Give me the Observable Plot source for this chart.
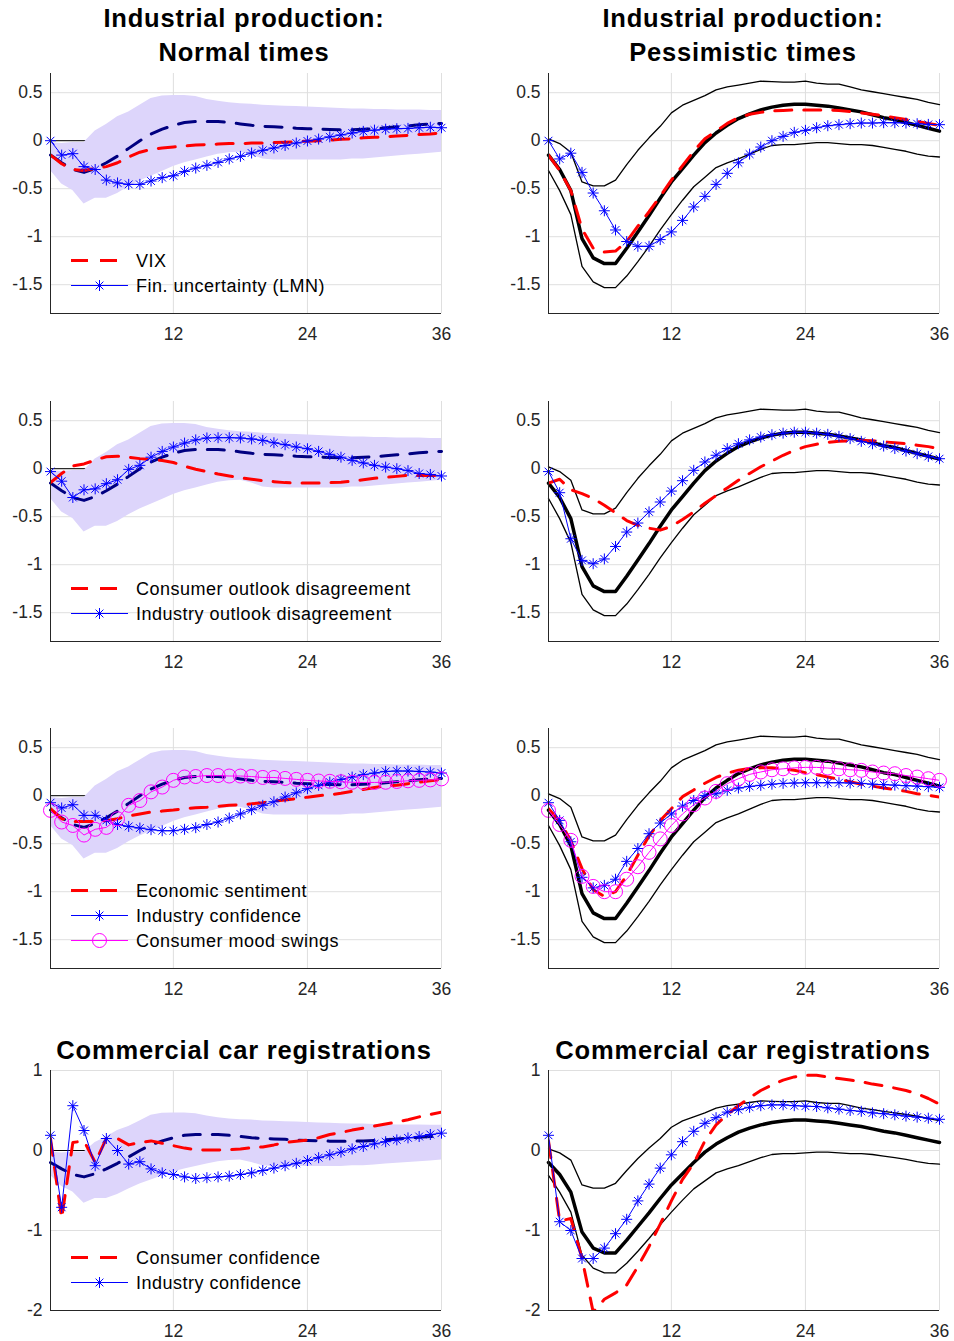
<!DOCTYPE html>
<html><head><meta charset="utf-8">
<script src="https://cdn.jsdelivr.net/npm/d3@7"></script>
<script src="https://cdn.jsdelivr.net/npm/@observablehq/plot@0.6"></script>
<style>
body{margin:0;background:#fff;font-family:"Liberation Sans",Arial,Helvetica,sans-serif;}
#root{position:relative;width:954px;height:1341px;overflow:hidden;background:#fff;}
.title{position:absolute;font-weight:bold;font-size:25.5px;letter-spacing:0.8px;color:#000;text-align:center;line-height:34px;width:500px;white-space:nowrap;}
.panel{position:absolute;}
.legend{position:absolute;}
</style></head><body><div id="root"></div>
<script>
// ---------- data ----------
const months = d3.range(1, 37);
const xTicks = [12, 24, 36];
const yTicksIP = [0.5, 0, -0.5, -1, -1.5];
const yTicksCar = [1, 0, -1, -2];

// baseline: normal times (median + band)
const normMed = [-0.15,-0.23,-0.30,-0.33,-0.29,-0.23,-0.16,-0.08,0.0,0.07,0.12,0.16,0.19,0.2,0.2,0.2,0.19,0.175,0.16,0.15,0.145,0.14,0.13,0.125,0.12,0.117,0.115,0.115,0.12,0.125,0.135,0.145,0.155,0.165,0.175,0.18];
const normHi = [-0.02,-0.03,-0.02,-0.02,0.1,0.17,0.25,0.3,0.37,0.44,0.465,0.47,0.47,0.46,0.43,0.41,0.395,0.385,0.38,0.37,0.365,0.36,0.355,0.35,0.345,0.34,0.335,0.33,0.33,0.325,0.325,0.32,0.32,0.32,0.315,0.315];
const normLo = [-0.31,-0.45,-0.52,-0.66,-0.60,-0.60,-0.55,-0.48,-0.42,-0.37,-0.32,-0.27,-0.23,-0.2,-0.17,-0.14,-0.125,-0.12,-0.15,-0.19,-0.2,-0.2,-0.2,-0.2,-0.2,-0.2,-0.2,-0.19,-0.19,-0.18,-0.17,-0.16,-0.15,-0.14,-0.13,-0.12];

// baseline: pessimistic times (median + bounds)
const pessMed = [-0.15,-0.30,-0.52,-1.02,-1.22,-1.28,-1.28,-1.12,-0.95,-0.78,-0.60,-0.43,-0.29,-0.15,-0.02,0.08,0.16,0.23,0.28,0.32,0.35,0.37,0.38,0.38,0.37,0.36,0.34,0.32,0.30,0.27,0.24,0.22,0.19,0.16,0.13,0.10];
const pessHi = [0.02,-0.03,-0.12,-0.43,-0.47,-0.47,-0.41,-0.25,-0.1,0.03,0.15,0.29,0.37,0.42,0.47,0.53,0.56,0.58,0.60,0.62,0.615,0.61,0.61,0.62,0.60,0.59,0.59,0.56,0.53,0.51,0.49,0.47,0.45,0.43,0.40,0.375];
const pessLo = [-0.31,-0.52,-0.77,-1.31,-1.47,-1.53,-1.53,-1.41,-1.26,-1.1,-0.93,-0.77,-0.62,-0.48,-0.38,-0.28,-0.23,-0.19,-0.14,-0.09,-0.05,-0.04,-0.04,-0.03,-0.02,-0.02,-0.03,-0.04,-0.04,-0.05,-0.07,-0.09,-0.11,-0.14,-0.16,-0.17];

// row 1: VIX / financial uncertainty
const vixNormal = [-0.15,-0.24,-0.30,-0.31,-0.29,-0.27,-0.23,-0.17,-0.12,-0.09,-0.075,-0.065,-0.055,-0.045,-0.04,-0.035,-0.03,-0.03,-0.025,-0.025,-0.02,-0.015,-0.01,-0.005,0.0,0.005,0.015,0.02,0.03,0.035,0.04,0.05,0.055,0.065,0.07,0.08];
const finNormal = [0.0,-0.15,-0.135,-0.27,-0.30,-0.41,-0.44,-0.455,-0.455,-0.42,-0.385,-0.365,-0.32,-0.285,-0.257,-0.226,-0.19,-0.163,-0.128,-0.10,-0.076,-0.05,-0.024,-0.003,0.017,0.04,0.06,0.08,0.097,0.11,0.12,0.125,0.128,0.135,0.14,0.135];
const vixPess = [-0.15,-0.31,-0.52,-0.92,-1.12,-1.16,-1.15,-1.05,-0.89,-0.74,-0.58,-0.41,-0.26,-0.11,0.02,0.10,0.18,0.24,0.275,0.295,0.31,0.315,0.32,0.32,0.32,0.32,0.315,0.305,0.29,0.275,0.26,0.24,0.22,0.2,0.18,0.16];
const finPess = [0.0,-0.19,-0.13,-0.33,-0.545,-0.73,-0.93,-1.05,-1.10,-1.10,-1.03,-0.95,-0.83,-0.69,-0.58,-0.455,-0.34,-0.23,-0.14,-0.066,0.0,0.045,0.087,0.108,0.135,0.156,0.167,0.177,0.184,0.184,0.187,0.187,0.184,0.177,0.17,0.167];

// row 2: outlook disagreement
const conOutNormal = [-0.145,-0.05,0.03,0.05,0.09,0.125,0.13,0.12,0.105,0.095,0.085,0.065,0.025,-0.005,-0.03,-0.055,-0.075,-0.095,-0.11,-0.125,-0.135,-0.145,-0.15,-0.15,-0.15,-0.145,-0.14,-0.13,-0.115,-0.1,-0.09,-0.08,-0.07,-0.07,-0.07,-0.07];
const indOutNormal = [-0.03,-0.13,-0.3,-0.22,-0.21,-0.156,-0.115,-0.007,0.035,0.12,0.18,0.226,0.267,0.3,0.32,0.323,0.323,0.32,0.31,0.295,0.27,0.25,0.226,0.208,0.18,0.15,0.12,0.087,0.06,0.035,0.017,0.0,-0.02,-0.05,-0.06,-0.076];
const conOutPess = [-0.15,-0.11,-0.22,-0.26,-0.31,-0.38,-0.46,-0.54,-0.59,-0.62,-0.64,-0.6,-0.53,-0.45,-0.36,-0.28,-0.2,-0.12,-0.05,0.02,0.08,0.14,0.19,0.23,0.255,0.275,0.285,0.29,0.295,0.29,0.28,0.27,0.26,0.245,0.23,0.21];
const indOutPess = [-0.03,-0.25,-0.73,-0.955,-0.99,-0.94,-0.81,-0.66,-0.566,-0.45,-0.347,-0.233,-0.125,-0.017,0.07,0.14,0.21,0.26,0.30,0.33,0.354,0.37,0.38,0.38,0.37,0.358,0.337,0.313,0.285,0.26,0.236,0.21,0.184,0.156,0.128,0.104];

// row 3: sentiment / confidence / mood
const econNormal = [-0.135,-0.24,-0.27,-0.27,-0.27,-0.26,-0.24,-0.21,-0.19,-0.17,-0.16,-0.15,-0.135,-0.125,-0.12,-0.11,-0.1,-0.094,-0.085,-0.073,-0.055,-0.045,-0.03,-0.015,0.0,0.01,0.025,0.045,0.065,0.085,0.1,0.11,0.125,0.14,0.155,0.17];
const indConfNormal = [-0.073,-0.128,-0.094,-0.205,-0.205,-0.257,-0.3,-0.32,-0.337,-0.354,-0.365,-0.365,-0.35,-0.333,-0.3,-0.274,-0.233,-0.19,-0.146,-0.1,-0.063,-0.014,0.03,0.073,0.108,0.142,0.17,0.194,0.219,0.236,0.253,0.257,0.257,0.253,0.246,0.236];
const moodNormal = [-0.153,-0.274,-0.31,-0.41,-0.35,-0.33,-0.24,-0.1,-0.05,0.04,0.09,0.16,0.195,0.2,0.21,0.21,0.205,0.205,0.2,0.19,0.19,0.18,0.17,0.16,0.153,0.15,0.145,0.14,0.138,0.138,0.14,0.148,0.155,0.16,0.165,0.175];
const econPess = [-0.135,-0.26,-0.47,-0.76,-0.98,-1.05,-1.0,-0.83,-0.62,-0.42,-0.26,-0.135,-0.01,0.06,0.13,0.19,0.235,0.265,0.285,0.29,0.29,0.28,0.265,0.24,0.22,0.195,0.17,0.145,0.12,0.1,0.08,0.065,0.045,0.02,0.005,-0.014];
const indConfPess = [-0.073,-0.257,-0.48,-0.85,-0.96,-0.934,-0.87,-0.684,-0.55,-0.396,-0.285,-0.19,-0.108,-0.05,0.003,0.02,0.056,0.08,0.097,0.108,0.12,0.128,0.132,0.135,0.135,0.135,0.135,0.132,0.128,0.12,0.115,0.11,0.104,0.1,0.094,0.087];
const moodPess = [-0.153,-0.3,-0.465,-0.84,-0.945,-1.0,-1.0,-0.87,-0.74,-0.59,-0.45,-0.31,-0.19,-0.094,-0.024,0.045,0.125,0.177,0.222,0.247,0.27,0.28,0.29,0.295,0.295,0.288,0.28,0.27,0.264,0.247,0.236,0.229,0.21,0.194,0.177,0.16];

// row 4: commercial car registrations
const conConfNormal = [0.15,-0.85,0.1,0.12,-0.15,0.15,0.15,0.07,0.1,0.12,0.09,0.06,0.03,0.01,0.005,0.005,0.01,0.02,0.035,0.045,0.07,0.1,0.115,0.13,0.16,0.2,0.225,0.255,0.28,0.305,0.33,0.355,0.385,0.42,0.45,0.48];
const indConfCarNormal = [0.19,-0.71,0.56,0.25,-0.19,0.15,0.0,-0.17,-0.14,-0.23,-0.28,-0.3,-0.33,-0.35,-0.34,-0.33,-0.32,-0.3,-0.28,-0.25,-0.22,-0.19,-0.16,-0.125,-0.09,-0.054,-0.02,0.02,0.05,0.083,0.11,0.133,0.158,0.175,0.2,0.217];
const conConfPess = [0.12,-0.88,-0.85,-1.35,-2.02,-1.86,-1.78,-1.68,-1.45,-1.2,-0.92,-0.63,-0.36,-0.16,0.12,0.32,0.45,0.56,0.66,0.75,0.82,0.88,0.92,0.94,0.94,0.92,0.90,0.88,0.86,0.83,0.81,0.78,0.75,0.71,0.65,0.58];
const indConfCarPess = [0.19,-0.89,-1.0,-1.35,-1.35,-1.22,-1.04,-0.86,-0.63,-0.42,-0.22,-0.054,0.11,0.24,0.34,0.41,0.48,0.51,0.54,0.56,0.57,0.57,0.56,0.554,0.55,0.533,0.517,0.5,0.49,0.47,0.46,0.446,0.43,0.417,0.404,0.39];

const titlesTop = [["Industrial production:", "Normal times"], ["Industrial production:", "Pessimistic times"]];
const titleCar = "Commercial car registrations";

// ---------- styling ----------
const C = {red: "#ff0000", blue: "#0000ff", magenta: "#ff00ff", navy: "#000080", grid: "#dfdfdf", axis: "#262626", band: "#ddd5fb"};
const DASH = "17,12";
const FONT = '"Liberation Sans", Arial, Helvetica, sans-serif';

const asterisk = {
  draw(ctx, size) {
    const r = Math.sqrt(size / Math.PI), d = r * Math.SQRT1_2;
    ctx.moveTo(-r, 0); ctx.lineTo(r, 0);
    ctx.moveTo(0, -r); ctx.lineTo(0, r);
    ctx.moveTo(-d, -d); ctx.lineTo(d, d);
    ctx.moveTo(-d, d); ctx.lineTo(d, -d);
  }
};

function seriesMarks(kind, values) {
  if (kind === "red") return [Plot.lineY(values, {x: months, stroke: C.red, strokeWidth: 3, strokeDasharray: DASH, clip: true})];
  if (kind === "blue") return [
    Plot.lineY(values, {x: months, stroke: C.blue, strokeWidth: 1, clip: true}),
    Plot.dot(values, {x: months, y: d => d, symbol: asterisk, r: 5.5, stroke: C.blue, strokeWidth: 1, fill: "none"})
  ];
  if (kind === "magenta") return [
    Plot.lineY(values, {x: months, stroke: C.magenta, strokeWidth: 1, clip: true}),
    Plot.dot(values, {x: months, y: d => d, symbol: "circle", r: 7, stroke: C.magenta, strokeWidth: 1, fill: "none"})
  ];
  return [];
}

const panels = [
  {col: 0, row: 0, regime: "normal", series: [["red", vixNormal], ["blue", finNormal]], legend: [["red", "VIX"], ["blue", "Fin. uncertainty (LMN)"]]},
  {col: 1, row: 0, regime: "pess", series: [["red", vixPess], ["blue", finPess]]},
  {col: 0, row: 1, regime: "normal", series: [["red", conOutNormal], ["blue", indOutNormal]], legend: [["red", "Consumer outlook disagreement"], ["blue", "Industry outlook disagreement"]]},
  {col: 1, row: 1, regime: "pess", series: [["red", conOutPess], ["blue", indOutPess]]},
  {col: 0, row: 2, regime: "normal", series: [["red", econNormal], ["blue", indConfNormal], ["magenta", moodNormal]], legend: [["red", "Economic sentiment"], ["blue", "Industry confidence"], ["magenta", "Consumer mood swings"]]},
  {col: 1, row: 2, regime: "pess", series: [["red", econPess], ["blue", indConfPess], ["magenta", moodPess]]},
  {col: 0, row: 3, regime: "normal", series: [["red", conConfNormal], ["blue", indConfCarNormal]], legend: [["red", "Consumer confidence"], ["blue", "Industry confidence"]]},
  {col: 1, row: 3, regime: "pess", series: [["red", conConfPess], ["blue", indConfCarPess]]}
];

const plotTops = [73, 401, 728, 1070];
const PLOT_H = 240, MT = 6, MB = 40, ML = 50, MR = 15, W = 456;
const colLefts = [0, 498];
const root = document.getElementById("root");

for (const p of panels) {
  const yDomain = p.row === 3 ? [-2, 1] : [-1.8, 0.7];
  const yTicks = p.row === 3 ? yTicksCar : yTicksIP;
  const marks = [
    Plot.ruleY(yTicks, {stroke: C.grid, strokeWidth: 1}),
    Plot.ruleX(xTicks, {stroke: C.grid, strokeWidth: 1})
  ];
  if (p.regime === "normal") {
    marks.push(
      Plot.ruleY([0], {stroke: "#000", strokeWidth: 1}),
      Plot.areaY(months, {x: months, y1: normLo, y2: normHi, fill: C.band, fillOpacity: 1}),
      Plot.lineY(normMed, {x: months, stroke: C.navy, strokeWidth: 3, strokeDasharray: DASH})
    );
  } else {
    marks.push(
      Plot.lineY(pessHi, {x: months, stroke: "#000", strokeWidth: 1.3}),
      Plot.lineY(pessLo, {x: months, stroke: "#000", strokeWidth: 1.3}),
      Plot.lineY(pessMed, {x: months, stroke: "#000", strokeWidth: 3.5})
    );
  }
  for (const [kind, vals] of p.series) marks.push(...seriesMarks(kind, vals));
  marks.push(
    Plot.ruleX([1], {stroke: C.axis, strokeWidth: 1}),
    Plot.ruleY([yDomain[0]], {stroke: C.axis, strokeWidth: 1})
  );
  const chart = Plot.plot({
    width: W, height: PLOT_H + MT + MB,
    marginLeft: ML, marginRight: MR, marginTop: MT, marginBottom: MB,
    style: {fontFamily: FONT, fontSize: "17.5px", color: C.axis, background: "transparent", overflow: "visible"},
    x: {domain: [1, 36], ticks: xTicks, tickSize: 0, tickPadding: 14, label: null},
    y: {domain: yDomain, ticks: yTicks, tickSize: 0, tickPadding: 8, label: null, tickFormat: d => String(d)},
    marks
  });
  const div = document.createElement("div");
  div.className = "panel";
  div.style.left = colLefts[p.col] + "px";
  div.style.top = (plotTops[p.row] - MT) + "px";
  div.appendChild(chart);
  root.appendChild(div);

  if (p.legend) {
    const n = p.legend.length;
    const bottom = plotTops[p.row] + PLOT_H;
    const firstY = bottom - 28 - 25 * (n - 1);
    const svg = d3.create("svg").attr("width", 400).attr("height", 25 * n)
      .style("position", "absolute").style("left", (colLefts[p.col] + ML) + "px")
      .style("top", (firstY - 12.5) + "px").style("overflow", "visible");
    p.legend.forEach(([kind, label], i) => {
      const y = 12.5 + 25 * i;
      const g = svg.append("g");
      const line = g.append("line").attr("x1", 21).attr("x2", 78).attr("y1", y).attr("y2", y);
      if (kind === "red") line.attr("stroke", C.red).attr("stroke-width", 3).attr("stroke-dasharray", DASH);
      else {
        const col = kind === "blue" ? C.blue : C.magenta;
        line.attr("stroke", col).attr("stroke-width", 1);
        if (kind === "blue") {
          g.append("path").attr("d", d3.symbol(asterisk, Math.PI * 5.5 * 5.5)()).attr("transform", `translate(49.5,${y})`)
            .attr("stroke", col).attr("fill", "none");
        } else {
          g.append("circle").attr("cx", 49.5).attr("cy", y).attr("r", 7).attr("stroke", col).attr("fill", "none");
        }
      }
      g.append("text").attr("x", 86).attr("y", y).attr("dy", "0.35em").text(label)
        .attr("font-family", FONT).attr("font-size", 18).attr("letter-spacing", "0.5px").attr("fill", "#000");
    });
    root.appendChild(svg.node());
  }
}

// titles
const titleCenters = [244, 743];
titlesTop.forEach((lines, c) => {
  const t = document.createElement("div");
  t.className = "title";
  t.style.left = (titleCenters[c] - 250) + "px";
  t.style.top = "1px";
  t.innerHTML = lines.map(s => `<div>${s}</div>`).join("");
  root.appendChild(t);
  const t2 = document.createElement("div");
  t2.className = "title";
  t2.style.left = (titleCenters[c] - 250) + "px";
  t2.style.top = "1033px";
  t2.textContent = titleCar;
  root.appendChild(t2);
});
</script></body></html>
